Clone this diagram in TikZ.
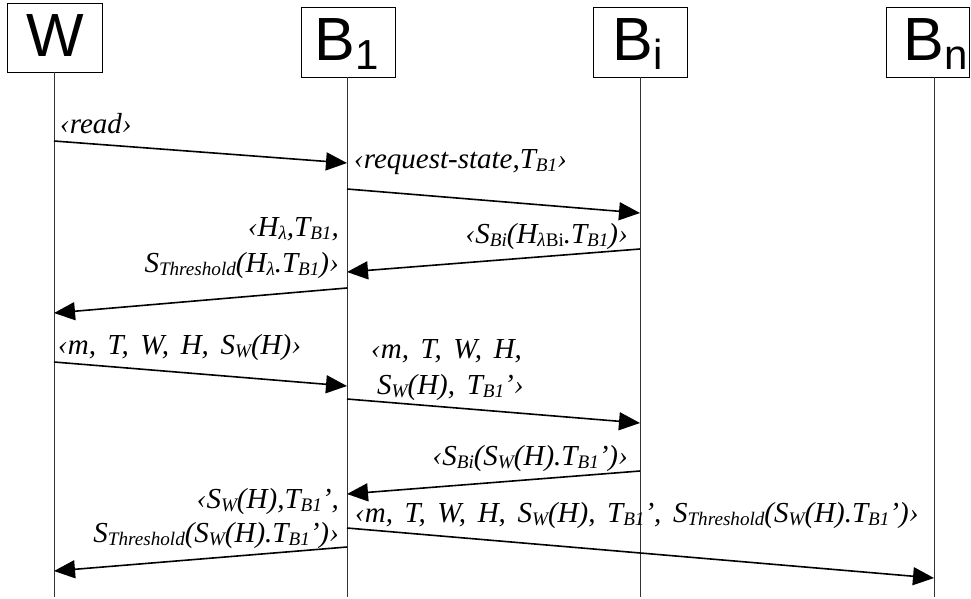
\documentclass[tikz,border=0pt]{standalone}
\usepackage{fontspec}
\setmainfont{Liberation Serif}
\setsansfont{Liberation Sans}
\newfontfamily\msgfont[WordSpace=1.6]{Liberation Serif}
\usepackage{graphicx}
\usetikzlibrary{arrows.meta}

% guillemets and lowered small indices used in the message texts
\newcommand{\gop}{‹}
\newcommand{\gcl}{›}
\newcommand{\lw}[1]{\raisebox{-0.12em}{\scalebox{0.66}{#1}}}
\newcommand{\lam}{λ}
\newcommand{\actsub}[1]{\raisebox{-9.5pt}{\fontsize{42}{42}\selectfont #1}}

\tikzset{
  actorbox/.style={draw, line width=0.8pt, inner sep=0pt},
  actorname/.style={inner sep=0pt, font=\fontsize{61}{61}\selectfont\sffamily},
  lifeline/.style={line width=0.6pt, draw=black!80},
  msg/.style={line width=1.6pt, -{Triangle[length=21pt,width=18pt]}},
  msgtext/.style={inner sep=0pt, font=\fontsize{29}{29}\selectfont\msgfont\itshape},
}

\begin{document}
\begin{tikzpicture}[x=1pt,y=-1pt]
\useasboundingbox (0,0) rectangle (971,598);

% participants
\node[actorbox, minimum width=95pt, minimum height=69pt] (w)  at (54.5,37.5) {};
\node[actorbox, minimum width=94pt, minimum height=70pt] (b1) at (348,42) {};
\node[actorbox, minimum width=94pt, minimum height=70pt] (bi) at (640,42) {};
\node[actorbox, minimum width=83pt, minimum height=70pt] (bn) at (927.5,42) {};

\node[actorname, anchor=base west] (wname)  at (26.5,56)  {W};
\node[actorname, anchor=base west] (b1name) at (314.5,60) {B\actsub{1}};
\node[actorname, anchor=base west] (biname) at (612.5,60) {B\actsub{i}};
\node[actorname, anchor=base west] (bnname) at (903.5,60) {B\actsub{n}};

% lifelines
\coordinate (wfoot)  at (54,597);
\coordinate (b1foot) at (347,597);
\coordinate (bifoot) at (640,597);
\coordinate (bnfoot) at (934,597);
\draw[lifeline] (w.south -| wfoot)   -- (wfoot);
\draw[lifeline] (b1.south -| b1foot) -- (b1foot);
\draw[lifeline] (bi.south -| bifoot) -- (bifoot);
\draw[lifeline] (bn.south -| bnfoot) -- (bnfoot);

% message end points on the lifelines
\coordinate (m1s) at (54,141);  \coordinate (m1e) at (347,163);
\coordinate (m2s) at (347,189); \coordinate (m2e) at (640,213);
\coordinate (m3s) at (640,249); \coordinate (m3e) at (347,272);
\coordinate (m4s) at (347,288); \coordinate (m4e) at (54,313);
\coordinate (m5s) at (54,362);  \coordinate (m5e) at (347,386);
\coordinate (m6s) at (347,399); \coordinate (m6e) at (640,423);
\coordinate (m7s) at (640,471); \coordinate (m7e) at (347,494);
\coordinate (m8s) at (347,547); \coordinate (m8e) at (54,571);
\coordinate (m9s) at (347,528); \coordinate (m9e) at (934,578);

\foreach \k in {1,...,9} { \draw[msg] (m\k s) -- (m\k e); }

% message texts
\node[msgtext, anchor=base west] (t1) at (60,133) {\gop read\gcl};
\node[msgtext, anchor=base west] (t2) at (354,168) {\gop request-state,T\lw{B1}\gcl};
\node[msgtext, anchor=base east] (t3) at (628,243) {\gop S\lw{Bi}(H\lw{\lam\textup{Bi}}.T\lw{B1})\gcl};
\node[msgtext, anchor=base east] (t4a) at (339,236) {\gop H\lw{\lam},T\lw{B1},};
\node[msgtext, anchor=base east] (t4b) at (339,272) {S\lw{Threshold}(H\lw{\lam}.T\lw{B1})\gcl};
\node[msgtext, anchor=base west] (t5) at (58,354) {\gop m, T, W, H, S\lw{W}(H)\gcl};
\node[msgtext, anchor=base west] (t6a) at (371,358) {\gop m, T, W, H,};
\node[msgtext, anchor=base west] (t6b) at (377,394) {S\lw{W}(H), T\lw{B1}’\gcl};
\node[msgtext, anchor=base east] (t7) at (628,465) {\gop S\lw{Bi}(S\lw{W}(H).T\lw{B1}’)\gcl};
\node[msgtext, anchor=base east] (t8a) at (339,508) {\gop S\lw{W}(H),T\lw{B1}’,};
\node[msgtext, anchor=base east] (t8b) at (339,542) {S\lw{Threshold}(S\lw{W}(H).T\lw{B1}’)\gcl};
\node[msgtext, anchor=base west] (t9) at (355,522) {\gop m, T, W, H, S\lw{W}(H), T\lw{B1}’, S\lw{Threshold}(S\lw{W}(H).T\lw{B1}’)\gcl};
\end{tikzpicture}
\end{document}
